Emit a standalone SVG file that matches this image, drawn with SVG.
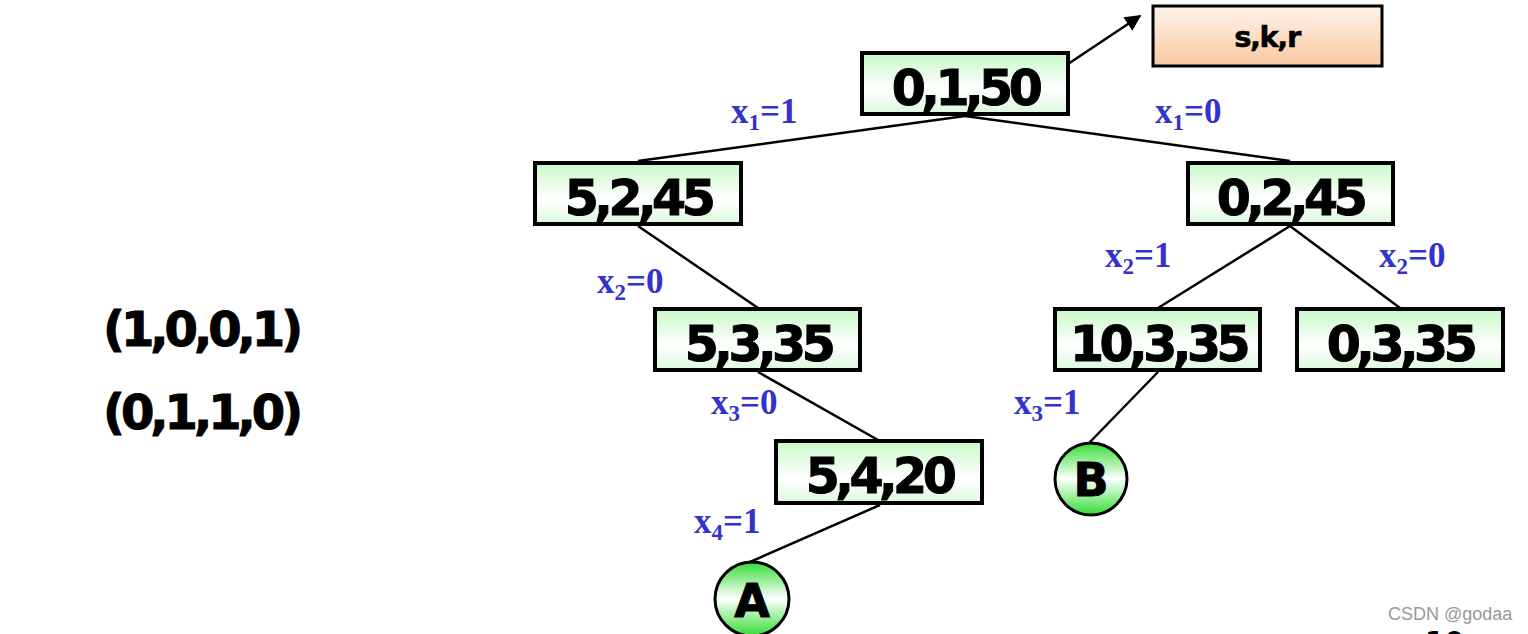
<svg xmlns="http://www.w3.org/2000/svg" width="1528" height="634" viewBox="0 0 1528 634">
<defs>
<linearGradient id="gbox" x1="0" y1="0" x2="0" y2="1">
<stop offset="0" stop-color="#c8f8c8"/>
<stop offset="0.6" stop-color="#ffffff"/>
<stop offset="1" stop-color="#dcf8dc"/>
</linearGradient>
<linearGradient id="obox" x1="0" y1="0" x2="0" y2="1">
<stop offset="0" stop-color="#fff4ea"/>
<stop offset="1" stop-color="#f8c8a0"/>
</linearGradient>
<linearGradient id="gcirc" x1="0" y1="0" x2="0" y2="1">
<stop offset="0" stop-color="#33dd33"/>
<stop offset="0.5" stop-color="#ffffff"/>
<stop offset="1" stop-color="#33dd33"/>
</linearGradient>
<marker id="arr" viewBox="0 0 10 10" refX="9" refY="5" markerWidth="6.5" markerHeight="6.5" orient="auto" markerUnits="strokeWidth">
<path d="M0,0 L10,5 L0,10 z" fill="#000"/>
</marker>
<style>
.box{fill:url(#gbox);stroke:#000;stroke-width:4}
.obox{fill:url(#obox);stroke:#000;stroke-width:3}
.circ{fill:url(#gcirc);stroke:#000;stroke-width:3}
.nt{font-family:"DejaVu Sans",Verdana,sans-serif;font-weight:bold;font-size:49px;letter-spacing:-4.5px;text-anchor:middle;fill:#000;stroke:#000;stroke-width:1}
.ct{font-family:"DejaVu Sans",Verdana,sans-serif;font-weight:bold;font-size:46px;text-anchor:middle;fill:#000;stroke:#000;stroke-width:1}
.lb{font-family:"Liberation Serif","Times New Roman",serif;font-weight:bold;font-size:35px;fill:#3333cc}
.sub{font-size:23px}
.big{font-family:"DejaVu Sans",Verdana,sans-serif;font-weight:bold;font-size:48px;letter-spacing:-4px;fill:#000;stroke:#000;stroke-width:1}
.edge{stroke:#000;stroke-width:2.5;fill:none}
</style>
</defs>
<g id="connectors">
<line class="edge" x1="965" y1="116" x2="638" y2="161"/>
<line class="edge" x1="965" y1="116" x2="1290" y2="161"/>
<line class="edge" x1="638" y1="226" x2="758" y2="308"/>
<line class="edge" x1="1290" y1="226" x2="1158" y2="308"/>
<line class="edge" x1="1290" y1="226" x2="1400" y2="308"/>
<line class="edge" x1="758" y1="372" x2="878" y2="440"/>
<line class="edge" x1="1158" y1="372" x2="1090" y2="442"/>
<line class="edge" x1="880" y1="505" x2="750" y2="562"/>
<line class="edge" x1="1056" y1="72" x2="1140" y2="16" stroke-width="3" marker-end="url(#arr)"/>
</g>
<g id="n0"><rect class="box" x="862" y="53" width="206" height="61"/><text class="nt" x="965" y="105">0,1,50</text></g>
<g id="skr"><rect class="obox" x="1153" y="6" width="229" height="60"/><text class="nt" x="1267" y="47" style="font-size:29px;letter-spacing:-1.5px;stroke-width:0.5">s,k,r</text></g>
<g id="n1"><rect class="box" x="535" y="163" width="206" height="61"/><text class="nt" x="638" y="215">5,2,45</text></g>
<g id="n2"><rect class="box" x="1188" y="163" width="205" height="61"/><text class="nt" x="1290" y="215">0,2,45</text></g>
<g id="n3"><rect class="box" x="655" y="309" width="205" height="61"/><text class="nt" x="758" y="361">5,3,35</text></g>
<g id="n4"><rect class="box" x="1055" y="309" width="205" height="61"/><text class="nt" x="1158" y="361">10,3,35</text></g>
<g id="n5"><rect class="box" x="1297" y="309" width="206" height="61"/><text class="nt" x="1400" y="361">0,3,35</text></g>
<g id="n6"><rect class="box" x="776" y="441" width="206" height="62"/><text class="nt" x="879" y="493">5,4,20</text></g>
<g id="B"><circle class="circ" cx="1091" cy="479" r="36"/><text class="ct" x="1091" y="496">B</text></g>
<g id="A"><circle class="circ" cx="752" cy="599" r="37"/><text class="ct" x="752" y="617">A</text></g>
<g id="labels">
<text class="lb" x="731" y="123">x<tspan class="sub" dy="7">1</tspan><tspan dy="-7">=1</tspan></text>
<text class="lb" x="1155" y="123">x<tspan class="sub" dy="7">1</tspan><tspan dy="-7">=0</tspan></text>
<text class="lb" x="1105" y="267">x<tspan class="sub" dy="7">2</tspan><tspan dy="-7">=1</tspan></text>
<text class="lb" x="1379" y="267">x<tspan class="sub" dy="7">2</tspan><tspan dy="-7">=0</tspan></text>
<text class="lb" x="597" y="293">x<tspan class="sub" dy="7">2</tspan><tspan dy="-7">=0</tspan></text>
<text class="lb" x="711" y="414">x<tspan class="sub" dy="7">3</tspan><tspan dy="-7">=0</tspan></text>
<text class="lb" x="1014" y="414">x<tspan class="sub" dy="7">3</tspan><tspan dy="-7">=1</tspan></text>
<text class="lb" x="694" y="533">x<tspan class="sub" dy="7">4</tspan><tspan dy="-7">=1</tspan></text>
</g>
<g id="left">
<text class="big" x="103" y="346">(1,0,0,1)</text>
<text class="big" x="103" y="429">(0,1,1,0)</text>
</g>
<text x="1388" y="620" font-family="Liberation Sans, Arial, sans-serif" font-size="18" fill="#999">CSDN @godaa</text>
<text x="1425" y="652" font-family="DejaVu Sans, Verdana, sans-serif" font-weight="bold" font-size="28" fill="#000">10</text>
</svg>
